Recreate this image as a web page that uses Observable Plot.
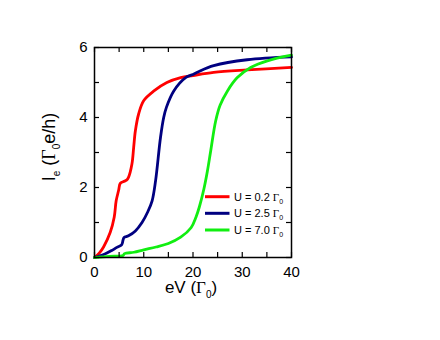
<!DOCTYPE html>
<html>
<head>
<meta charset="utf-8">
<script src="https://cdn.jsdelivr.net/npm/d3@7"></script>
<script src="https://cdn.jsdelivr.net/npm/@observablehq/plot@0.6"></script>
<style>
  html, body { margin: 0; padding: 0; background: white; }
</style>
</head>
<body>
<div id="chart"></div>
<script>
// Series: U = 0.2 Γ0
const redX = [0, 1, 1.84, 3.2, 4.0, 4.4, 4.9, 5.23, 5.9, 6.5, 6.9, 7.6, 7.95, 8.3, 8.96, 9.98, 12.07, 14.7, 17.5, 20, 24.2, 31, 40];
const redY = [0, 0.13, 0.3, 0.72, 1.15, 1.62, 1.92, 2.12, 2.17, 2.21, 2.29, 2.67, 3.14, 3.62, 4.1, 4.48, 4.76, 5.0, 5.14, 5.2, 5.29, 5.36, 5.43];
// Series: U = 2.5 Γ0
const blueX = [0, 2.1, 3.5, 4.55, 5.5, 5.8, 6.0, 6.9, 8.3, 9.65, 10.8, 11.7, 12.4, 13.4, 14.05, 14.6, 16.1, 18.5, 19.8, 21, 24.2, 31, 40];
const blueY = [0, 0.1, 0.2, 0.29, 0.36, 0.5, 0.57, 0.62, 0.76, 1.0, 1.3, 1.62, 2.19, 3.43, 4.0, 4.29, 4.76, 5.14, 5.22, 5.3, 5.48, 5.65, 5.73];
// Series: U = 7.0 Γ0
const greenX = [0, 3, 5.8, 6.1, 8, 10, 12.5, 15, 17.5, 19.6, 20.6, 21.3, 22.2, 22.9, 23.6, 24.6, 25.5, 27, 29, 31.7, 35.1, 40];
const greenY = [0, 0.03, 0.06, 0.11, 0.15, 0.22, 0.3, 0.4, 0.58, 0.85, 1.15, 1.45, 1.95, 2.45, 3.05, 3.9, 4.35, 4.76, 5.14, 5.43, 5.62, 5.78];

const seriesNames = ["0.2", "2.5", "7.0"];
const seriesColors = ["#ff0000", "#000080", "#11ee11"];

const xTicks = [0, 10, 20, 30, 40];
const xMinorTicks = [0, 5, 10, 15, 20, 25, 30, 35, 40];
const yTicks = [0, 2, 4, 6];
const yMinorTicks = [0, 1, 2, 3, 4, 5, 6];

const toRows = (xs, ys) => xs.map((x, i) => ({x, y: ys[i]}));
const series = [toRows(redX, redY), toRows(blueX, blueY), toRows(greenX, greenY)];

const W = 440, H = 340, mL = 94, mR = 149, mT = 47, mB = 83;
const innerH = H - mT - mB;
const innerW = W - mL - mR;
const tickLen = 5;

const plot = Plot.plot({
  width: W, height: H,
  marginLeft: mL, marginRight: mR, marginTop: mT, marginBottom: mB,
  style: {fontFamily: "'Liberation Sans', Arial, sans-serif", fontSize: "15px", background: "white", color: "black"},
  x: {domain: [0, 40], ticks: xTicks, tickSize: 0, tickPadding: 9, tickFormat: d3.format("d"), label: null},
  y: {domain: [0, 6], ticks: yTicks, tickSize: 0, tickPadding: 7, tickFormat: d3.format("d"), label: null},
  marks: [
    ...series.map((d, i) => Plot.line(d, {x: "x", y: "y", stroke: seriesColors[i], strokeWidth: 2.8, curve: "catmull-rom"})),
    Plot.tickX(xMinorTicks, {x: d => d, insetTop: innerH - tickLen, stroke: "black", strokeWidth: 1.2}),
    Plot.tickX(xMinorTicks, {x: d => d, insetBottom: innerH - tickLen, stroke: "black", strokeWidth: 1.2}),
    Plot.tickY(yMinorTicks, {y: d => d, insetRight: innerW - tickLen, stroke: "black", strokeWidth: 1.2}),
    Plot.tickY(yMinorTicks, {y: d => d, insetLeft: innerW - tickLen, stroke: "black", strokeWidth: 1.2}),
    Plot.frame({stroke: "black", strokeWidth: 1.5})
  ]
});

const svg = d3.select(plot);
const serif = "'Liberation Serif', 'Times New Roman', serif";
const sans = "'Liberation Sans', Arial, sans-serif";

// x axis label: eV (Γ0)
const xl = svg.append("text")
  .attr("x", 191).attr("y", 293)
  .attr("text-anchor", "middle")
  .attr("font-family", sans).attr("font-size", 17).attr("fill", "black");
xl.append("tspan").text("eV (");
xl.append("tspan").attr("font-family", serif).text("Γ");
xl.append("tspan").attr("font-size", 10).attr("dy", 5).text("0");
xl.append("tspan").attr("dy", -5).text(")");

// y axis label: Ie (Γ0 e/h)
const yl = svg.append("text")
  .attr("transform", "translate(55,147) rotate(-90)")
  .attr("text-anchor", "middle")
  .attr("font-family", sans).attr("font-size", 18).attr("fill", "black");
yl.append("tspan").text("I");
yl.append("tspan").attr("font-size", 10).attr("dy", 5).text("e");
yl.append("tspan").attr("dy", -5).text(" (");
yl.append("tspan").attr("font-family", serif).text("Γ");
yl.append("tspan").attr("font-size", 10).attr("dy", 5).text("0");
yl.append("tspan").attr("dy", -5).text("e/h)");

// legend
const legendY = [196.7, 213.3, 230];
seriesNames.forEach((name, i) => {
  svg.append("line")
    .attr("x1", 205).attr("x2", 229.5)
    .attr("y1", legendY[i]).attr("y2", legendY[i])
    .attr("stroke", seriesColors[i]).attr("stroke-width", 3);
  const t = svg.append("text")
    .attr("x", 234).attr("y", legendY[i] + 4)
    .attr("text-anchor", "start")
    .attr("font-family", sans).attr("font-size", 11).attr("fill", "black");
  t.append("tspan").text(`U = ${name} `);
  t.append("tspan").attr("font-family", serif).text("Γ");
  t.append("tspan").attr("font-size", 7).attr("dy", 3).text("0");
});

document.getElementById("chart").appendChild(plot);
</script>
</body>
</html>
